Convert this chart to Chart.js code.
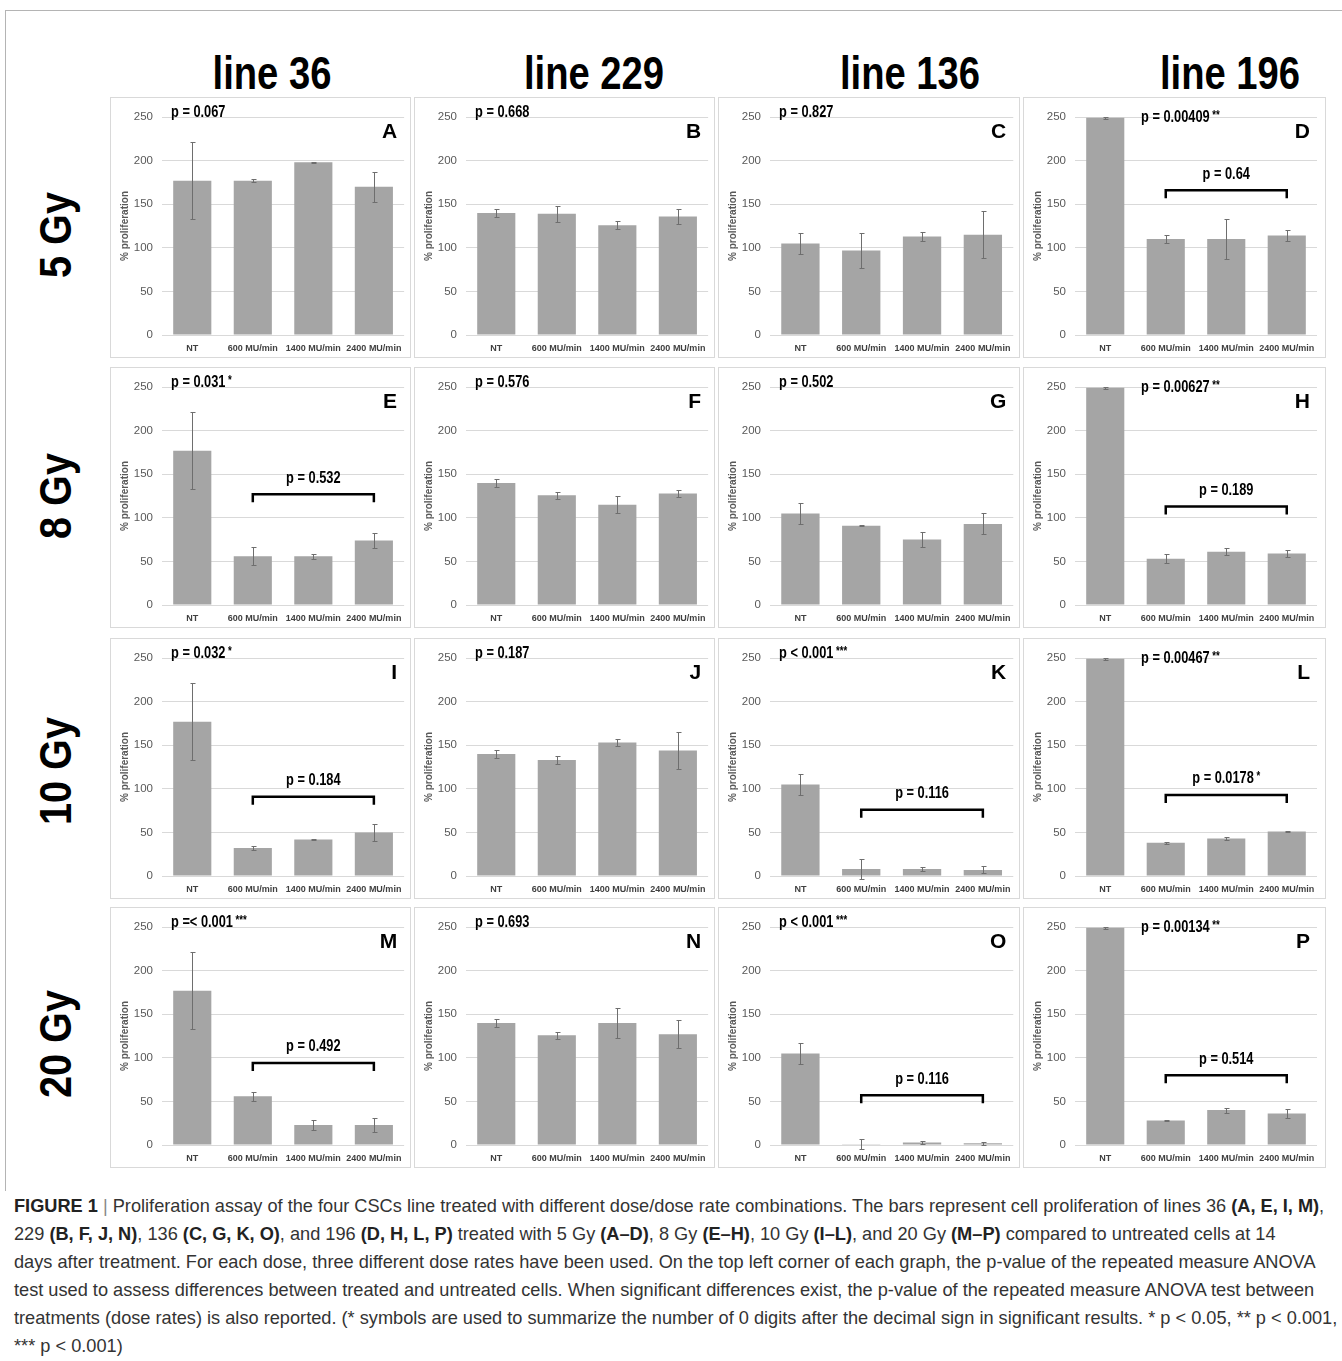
<!DOCTYPE html>
<html>
<head>
<meta charset="utf-8">
<script src="https://cdn.jsdelivr.net/npm/chart.js@4.4.1/dist/chart.umd.min.js"></script>
<style>
    body { margin: 0; background: #fff; width: 1342px; height: 1361px; position: relative; overflow: hidden; }
    .frame { position: absolute; left: 5px; top: 10px; width: 1400px; height: 1180px; border-top: 1px solid #b4b4b4; border-left: 1px solid #b4b4b4; }
    .col-title { position: absolute; top: 46px; width: 200px; text-align: center; font: bold 46px "Liberation Sans", sans-serif; color: #000; transform: scaleX(0.83); }
    .row-title { position: absolute; width: 200px; text-align: center; font: bold 44px "Liberation Sans", sans-serif; color: #000; transform: rotate(-90deg) scaleX(0.9); }
    .panel { position: absolute; border: 1px solid #d9d9d9; box-sizing: border-box; }
    .panel canvas { display: block; }
    .caption { position: absolute; left: 14px; top: 1192px; font: 18.2px "Liberation Sans", sans-serif; color: #333; line-height: 28px; white-space: nowrap; }
    .caption b { color: #222; }
    .caption .bar { color: #888; }
</style>
</head>
<body>
<div class="frame"></div>
<div id="figure"></div>
<div class="caption">
<b>FIGURE 1</b> <span class="bar">|</span> Proliferation assay of the four CSCs line treated with different dose/dose rate combinations. The bars represent cell proliferation of lines 36 <b>(A, E, I, M)</b>,<br>
229 <b>(B, F, J, N)</b>, 136 <b>(C, G, K, O)</b>, and 196 <b>(D, H, L, P)</b> treated with 5 Gy <b>(A–D)</b>, 8 Gy <b>(E–H)</b>, 10 Gy <b>(I–L)</b>, and 20 Gy <b>(M–P)</b> compared to untreated cells at 14<br>
days after treatment. For each dose, three different dose rates have been used. On the top left corner of each graph, the p-value of the repeated measure ANOVA<br>
test used to assess differences between treated and untreated cells. When significant differences exist, the p-value of the repeated measure ANOVA test between<br>
treatments (dose rates) is also reported. (* symbols are used to summarize the number of 0 digits after the decimal sign in significant results. * p &lt; 0.05, ** p &lt; 0.001,<br>
*** p &lt; 0.001)
</div>
<script>
// Data
const categories = ['NT', '600 MU/min', '1400 MU/min', '2400 MU/min'];
const yTicks = [0, 50, 100, 150, 200, 250];
const lines = ['line 36', 'line 229', 'line 136', 'line 196'];
const doses = ['5 Gy', '8 Gy', '10 Gy', '20 Gy'];
const letters = ['A','B','C','D','E','F','G','H','I','J','K','L','M','N','O','P'];

// mean % proliferation per panel (rows = dose, cols = line)
const means = [
    [177, 177, 198, 170], [140, 139, 126, 136], [105, 97, 113, 115], [249, 110, 110, 114],
    [177, 56, 56, 74],    [140, 126, 115, 128], [105, 91, 75, 93],   [249, 53, 61, 59],
    [177, 32, 42, 50],    [140, 133, 153, 144], [105, 8, 8, 7],      [249, 38, 43, 51],
    [177, 56, 23, 23],    [140, 126, 140, 127], [105, 1, 3, 2],      [249, 28, 40, 36]
];
// error bar half widths
const errors = [
    [44, 2, 0.5, 17], [5, 9, 5, 9],   [12, 20, 5, 27],  [1.5, 5, 23, 6],
    [44, 10, 3, 9],   [5, 4, 10, 4],  [12, 0.5, 9, 12], [1.5, 5, 4, 4],
    [44, 2, 1, 10],   [5, 5, 4, 21],  [12, 11, 2, 4],   [1.5, 1, 2, 1],
    [44, 5, 6, 8],    [5, 4, 17, 16], [12, 6, 1.5, 2],  [1.5, 1, 3, 5]
];
// treated vs untreated ANOVA
const pMain = [
    'p = 0.067', 'p = 0.668', 'p = 0.827', 'p = 0.00409',
    'p = 0.031', 'p = 0.576', 'p = 0.502', 'p = 0.00627',
    'p = 0.032', 'p = 0.187', 'p < 0.001', 'p = 0.00467',
    'p =< 0.001', 'p = 0.693', 'p < 0.001', 'p = 0.00134'
];
const pMainStars = ['', '', '', '**', '*', '', '', '**', '*', '', '***', '**', '***', '', '***', '**'];
// between dose rates ANOVA (bracket), with the bracket level in % units
const pBracket = [
    null, null, null, 'p = 0.64',
    'p = 0.532', null, null, 'p = 0.189',
    'p = 0.184', null, 'p = 0.116', 'p = 0.0178',
    'p = 0.492', null, 'p = 0.116', 'p = 0.514'
];
const pBracketStars = ['', '', '', '', '', '', '', '', '', '', '', '*', '', '', '', ''];
const bracketLevel = [null, null, null, 166, 127, null, null, 113, 91, null, 76, 93, 94, null, 57, 80];

// layout of the grid
const colLeft = [110, 414, 718, 1023];
const colWidth = [301, 301, 302, 303];
const rowTop = [97, 367, 638, 907];
const rowHeight = 261;
const colCenter = [272, 594, 910, 1230];
const rowCenter = [236, 497, 772, 1045];

Chart.defaults.font.family = '"Liberation Sans", sans-serif';

const fig = document.getElementById('figure');

lines.forEach((t, c) => {
    const d = document.createElement('div');
    d.className = 'col-title';
    d.textContent = t;
    d.style.left = (colCenter[c] - 100) + 'px';
    fig.appendChild(d);
});
doses.forEach((t, r) => {
    const d = document.createElement('div');
    d.className = 'row-title';
    d.textContent = t;
    d.style.left = (56 - 100) + 'px';
    d.style.top = (rowCenter[r] - 26) + 'px';
    fig.appendChild(d);
});

// condensed text: squeeze horizontally since no narrow face is installed
const SQ = 0.8;
function narrowText(ctx, text, x, y) {
    ctx.save();
    ctx.translate(x, y);
    ctx.scale(SQ, 1);
    ctx.fillText(text, 0, 0);
    ctx.restore();
}

function drawP(ctx, text, stars, x, y, align) {
    ctx.textBaseline = 'middle';
    ctx.textAlign = 'left';
    ctx.font = 'bold 16px "Liberation Sans"';
    const w = ctx.measureText(text).width * SQ;
    ctx.font = 'bold 12px "Liberation Sans"';
    const sw = stars ? ctx.measureText(' ' + stars).width * SQ : 0;
    const left = align === 'center' ? x - (w + sw) / 2 : x;
    ctx.font = 'bold 16px "Liberation Sans"';
    narrowText(ctx, text, left, y);
    if (stars) {
        ctx.font = 'bold 12px "Liberation Sans"';
        narrowText(ctx, ' ' + stars, left + w, y - 2);
    }
}

// error bars, p-values, panel letter and bracket
const panelDecor = {
    id: 'panelDecor',
    afterDatasetsDraw(chart, args, o) {
        const ctx = chart.ctx;
        const ys = chart.scales.y;
        const a = chart.chartArea;
        const bars = chart.getDatasetMeta(0).data;
        ctx.save();
        ctx.strokeStyle = '#6e6e6e';
        ctx.lineWidth = 1;
        bars.forEach((bar, i) => {
            const v = o.vals[i], e = o.err[i];
            const x = Math.round(bar.x) + 0.5;
            const y1 = Math.round(ys.getPixelForValue(v + e)) + 0.5;
            const y2 = Math.round(ys.getPixelForValue(v - e)) + 0.5;
            ctx.beginPath();
            ctx.moveTo(x, y1); ctx.lineTo(x, y2);
            ctx.moveTo(x - 2, y1); ctx.lineTo(x + 3, y1);
            ctx.moveTo(x - 2, y2); ctx.lineTo(x + 3, y2);
            ctx.stroke();
        });

        ctx.fillStyle = '#000';
        if (o.afterFirst) {
            drawP(ctx, o.p, o.stars, a.left + 66, a.top + 1, 'left');
        } else {
            drawP(ctx, o.p, o.stars, a.left + 9, a.top - 4, 'left');
        }

        ctx.font = 'bold 21px "Liberation Sans"';
        ctx.textAlign = 'right';
        ctx.textBaseline = 'middle';
        ctx.fillText(o.letter, a.right - 7, a.top + 15);

        if (o.bp) {
            const x1 = bars[1].x, x2 = bars[3].x;
            const by = ys.getPixelForValue(o.level);
            ctx.strokeStyle = '#000';
            ctx.lineWidth = 2.5;
            ctx.beginPath();
            ctx.moveTo(x1, by + 8);
            ctx.lineTo(x1, by);
            ctx.lineTo(x2, by);
            ctx.lineTo(x2, by + 8);
            ctx.stroke();
            drawP(ctx, o.bp, o.bstars, (x1 + x2) / 2, by - 16, 'center');
        }
        ctx.restore();
    }
};

letters.forEach((letter, k) => {
    const r = Math.floor(k / 4), c = k % 4;
    const box = document.createElement('div');
    box.className = 'panel';
    box.style.left = colLeft[c] + 'px';
    box.style.top = rowTop[r] + 'px';
    box.style.width = colWidth[c] + 'px';
    box.style.height = rowHeight + 'px';
    const cv = document.createElement('canvas');
    cv.width = colWidth[c] - 2;
    cv.height = rowHeight - 2;
    box.appendChild(cv);
    fig.appendChild(box);

    new Chart(cv.getContext('2d'), {
        type: 'bar',
        data: {
            labels: categories,
            datasets: [{
                data: means[k],
                backgroundColor: '#a5a5a5',
                categoryPercentage: 1.0,
                barPercentage: 0.63
            }]
        },
        options: {
            responsive: false,
            animation: false,
            layout: { padding: { top: 19, right: c === 3 ? 8 : 5, left: 0, bottom: 0 } },
            plugins: {
                legend: { display: false },
                tooltip: { enabled: false },
                panelDecor: {
                    vals: means[k], err: errors[k], letter: letter,
                    p: pMain[k], stars: pMainStars[k], afterFirst: c === 3,
                    bp: pBracket[k], bstars: pBracketStars[k], level: bracketLevel[k]
                }
            },
            scales: {
                x: {
                    grid: { display: false, drawTicks: false },
                    border: { display: false },
                    ticks: {
                        color: '#404040',
                        font: { size: 9, weight: 'bold' },
                        padding: 8,
                        maxRotation: 0,
                        autoSkip: false
                    },
                    afterFit: s => { s.height = 22; }
                },
                y: {
                    min: 0,
                    max: 250,
                    afterBuildTicks: s => { s.ticks = yTicks.map(v => ({ value: v })); },
                    grid: { color: '#d9d9d9', drawTicks: false },
                    border: { display: false },
                    ticks: { color: '#595959', font: { size: 11.5 }, padding: 9 },
                    title: {
                        display: true,
                        text: '% proliferation',
                        color: '#595959',
                        font: { size: 10, weight: 'bold' },
                        padding: { top: 8, bottom: 0 }
                    },
                    afterFit: s => { s.width = 51; }
                }
            }
        },
        plugins: [panelDecor]
    });
});
</script>
</body>
</html>
